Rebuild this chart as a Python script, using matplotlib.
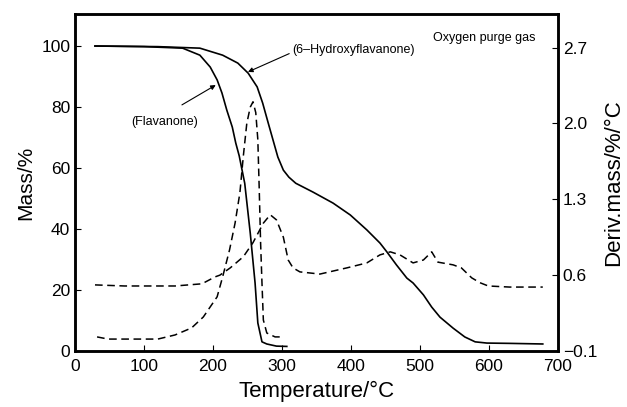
import matplotlib
matplotlib.use("Agg")
import matplotlib.pyplot as plt

plt.rcParams['font.family'] = ['Liberation Sans', 'DejaVu Sans']

# TG curves (mass %)
flav_T = [29, 100, 156, 181, 196, 206, 213, 220, 228, 233, 238, 246, 254, 261, 265, 271,
          278, 292, 307]
flav_m = [100, 99.8, 99.3, 97, 93.1, 88.9, 84.6, 79, 73.4, 68.2, 64, 55, 38.7, 22.3, 9.2,
          3, 2.3, 1.6, 1.5]

hyd_T = [29, 120, 181, 214, 236, 251, 264, 272, 280, 287, 294, 302, 310, 320, 345, 374,
         399, 423, 442, 452, 466, 481, 490, 505, 517, 529, 548, 565, 580, 597, 630, 678]
hyd_m = [100, 99.8, 99.3, 97, 94.4, 91.1, 86.6, 81.3, 74.8, 69.2, 63.6, 59.3, 57, 55, 52.1,
         48.5, 44.6, 39.7, 35.4, 32.5, 28.2, 23.9, 22.3, 18.4, 14.4, 11.1, 7.5, 4.6, 3, 2.6,
         2.5, 2.3]

# DTG curves (deriv. mass %/°C)
dflav_T = [32, 48, 120, 145, 169, 186, 206, 214, 224, 232, 239, 244, 249, 254, 258, 262,
           265, 267, 269, 271, 273, 278, 290, 300]
dflav_d = [0.03, 0.01, 0.01, 0.048, 0.113, 0.214, 0.40, 0.584, 0.833, 1.08, 1.36, 1.70,
           2.0, 2.15, 2.20, 2.1, 1.85, 1.4, 0.9, 0.53, 0.186, 0.066, 0.03, 0.03]

dhyd_T = [29, 72, 145, 184, 203, 210, 225, 244, 258, 273, 283, 292, 302, 309, 316, 326,
          355, 394, 423, 442, 457, 471, 490, 505, 517, 526, 548, 560, 575, 587, 599, 630, 678]
dhyd_d = [0.51, 0.50, 0.50, 0.52, 0.584, 0.6, 0.667, 0.77, 0.9, 1.08, 1.157, 1.11, 0.95,
          0.74, 0.667, 0.63, 0.61, 0.667, 0.713, 0.787, 0.815, 0.787, 0.713, 0.74, 0.815,
          0.72, 0.695, 0.667, 0.575, 0.53, 0.5, 0.49, 0.49]

fig = plt.figure(figsize=(6.27, 4.07), dpi=100)
ax = fig.add_axes([0.1196, 0.1376, 0.7703, 0.828])
ax2 = ax.twinx()

ax.plot(flav_T, flav_m, color="black", lw=1.2)
ax.plot(hyd_T, hyd_m, color="black", lw=1.2)
ax2.plot(dflav_T, dflav_d, color="black", lw=1.1, dashes=(5, 3))
ax2.plot(dhyd_T, dhyd_d, color="black", lw=1.1, dashes=(5, 3))

ax.set_xlim(0, 700)
ax.set_ylim(0, 110.5)
ax2.set_ylim(-0.1, 3.01)
ax.set_xticks(range(0, 701, 100))
ax.set_yticks(range(0, 101, 20))
ax2.set_yticks([-0.1, 0.6, 1.3, 2.0, 2.7])
ax2.set_yticklabels(["\u22120.1", "0.6", "1.3", "2.0", "2.7"])

for a in (ax, ax2):
    a.tick_params(direction="in", length=4, width=0.8, labelsize=12.5)
    for s in a.spines.values():
        s.set_linewidth(1.8)
ax.tick_params(axis="x", pad=6)

ax.set_xlabel("Temperature/\u00b0C", fontsize=16, labelpad=5)
ax.set_ylabel("Mass/%", fontsize=15)
ax2.set_ylabel("Deriv.mass/%/\u00b0C", fontsize=16)

ax.annotate("(6\u2013Hydroxyflavanone)", xy=(250.7, 91.5), xytext=(314.5, 98.7),
            fontsize=9, va="center", ha="left",
            arrowprops=dict(arrowstyle="-|>", color="black", lw=0.8, mutation_scale=7,
                            shrinkA=0, shrinkB=0, relpos=(0, 0.3)))
ax.annotate("", xy=(204, 87.2), xytext=(155, 80.7),
            arrowprops=dict(arrowstyle="-|>", color="black", lw=0.8, mutation_scale=7,
                            shrinkA=0, shrinkB=0))
ax.text(130, 75, "(Flavanone)", fontsize=9, ha="center", va="center")
ax.text(519, 102.6, "Oxygen purge gas", fontsize=9, ha="left", va="center")

fig.savefig("out.png", dpi=100)
